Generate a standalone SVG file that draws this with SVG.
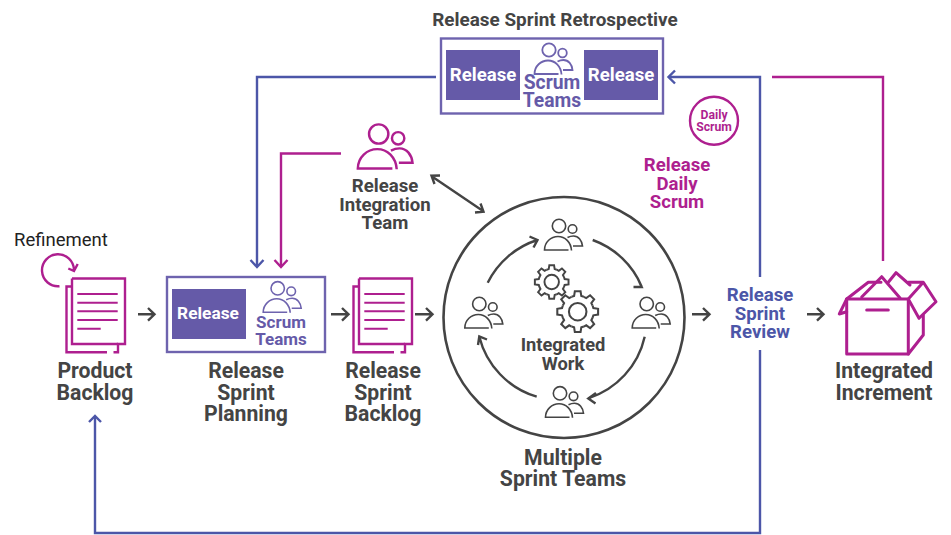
<svg xmlns="http://www.w3.org/2000/svg" xmlns:xlink="http://www.w3.org/1999/xlink" width="951" height="535" viewBox="0 0 951 535">
<style>
text{font-family:Roboto,"Liberation Sans",sans-serif;font-weight:700;text-anchor:middle;fill:#444}
.big{font-size:21.200px}
.mid{font-size:18.600px}
.blue{fill:#4c56a8}
.mag{fill:#ae1f8f}
.pur{fill:#655aa8}
.wht{fill:#fff}
.g{stroke:#444;stroke-width:2.400;fill:none}
.b{stroke:#4c56a8;stroke-width:2.400;fill:none}
.m{stroke:#ae1f8f;stroke-width:2.400;fill:none}
.box{fill:#fff;stroke:#6e63ae;stroke-width:2.400}
.rel{fill:#655aa8}
.doc{fill:none;stroke:#ae1f8f;stroke-width:2.400}
</style>
<defs>
<g id="person" fill="none">
<circle cx="0" cy="0" r="6.7"/>
<circle cx="13.5" cy="3" r="4.3"/>
<path d="M9.5 24H-14.5C-14.5 16-8 10.5-1 10.5C6 10.5 12 16 12.500 24.500"/>
<path d="M8.500 11.500C10.500 10.500 12.500 10 14.500 10C19.500 10 23 14.500 23.500 20H14"/>
</g>
<g id="gs"><path d="M14.42-5.98L15.2-3.500L19.800-2.780V2.780L15.2 3.500L14.42 5.980"/></g>
<g id="gear" fill="none">
<use xlink:href="#gs"/><use xlink:href="#gs" transform="rotate(45)"/><use xlink:href="#gs" transform="rotate(90)"/><use xlink:href="#gs" transform="rotate(135)"/><use xlink:href="#gs" transform="rotate(180)"/><use xlink:href="#gs" transform="rotate(225)"/><use xlink:href="#gs" transform="rotate(270)"/><use xlink:href="#gs" transform="rotate(315)"/>
<circle r="8.500"/>
</g>
<g id="docs" class="doc">
<path d="M72 278.500H125V344H118V352.300H113.500M107 352.300H66.500V286.500H71"/>
<path d="M72 278.500V344H118"/>
<path d="M77.300 294H117.700M77.300 302.700H117.700M77.300 311.300H117.700M77.300 320H117.700M77.300 328.700H100.700" stroke-width="2"/>
</g>
</defs>

<g id="connectors" stroke-linecap="butt">
<path class="b" d="M436 77H257V266"/>
<path class="b" d="M250.500 260L257 267L263.500 260"/>
<path class="m" d="M341 153.500H281V266"/>
<path class="m" d="M274.500 260L281 267L287.500 260"/>
<path class="b" d="M760 277V77H669"/>
<path class="b" d="M675 70.500L668.500 77L675 83.500"/>
<path class="b" d="M760 350V533H95V417"/>
<path class="b" d="M89 422L95 416L101 422"/>
<path class="m" d="M772 77H883V261"/>
<path class="g" d="M138 314.300H154M148 308L154.500 314.300L148 320.600"/>
<path class="g" d="M331 314.300H348M342 308L348.500 314.300L342 320.600"/>
<path class="g" d="M415 314.300H432M426 308L432.500 314.300L426 320.600"/>
<path class="g" d="M692 314.300H709M703 308L709.500 314.300L703 320.600"/>
<path class="g" d="M807 314.300H823M817 308L823.500 314.300L817 320.600"/>
<path class="g" d="M432 176.500L483 211M440 175.500L431.500 175.700L434.500 184M475 212.500L483.500 211.700L480.500 203.500"/>
<path class="g" d="M487.700 282.700A84 84 0 0 1 537.300 240M529.500 236.500L537.500 240L533.500 247.500"/>
<path class="g" d="M592.700 240A84 84 0 0 1 641.700 286.700M638 279L641.700 287L633.500 287"/>
<path class="g" d="M644.700 336.700A84 84 0 0 1 588.300 398.300M596 393L588.300 398.500L595.500 403.500"/>
<path class="g" d="M536.700 396.700A84 84 0 0 1 479.300 336.700M478 345L479.300 336.500L487 339.500"/>
<path class="m" d="M59.500 286.200A16 16 0 1 1 74 270M68.300 268.500L74 271L77.700 264"/>
</g>

<g id="retro">
<text x="555" y="26" style="font-size:18.900px">Release Sprint Retrospective</text>
<rect class="box" x="441" y="38.500" width="222" height="75"/>
<rect class="rel" x="446" y="50" width="74" height="50"/>
<rect class="rel" x="584" y="50" width="74" height="50"/>
<text class="wht" x="483" y="81" style="font-size:18.600px">Release</text>
<text class="wht" x="621" y="81" style="font-size:18.600px">Release</text>
<use xlink:href="#person" transform="translate(549 50)" stroke="#6e63ae" stroke-width="1.800"/>
<text class="pur" x="552" y="89" style="font-size:19.300px">Scrum</text>
<text class="pur" x="552" y="107" style="font-size:19.300px">Teams</text>
</g>

<g id="daily-scrum-badge">
<circle cx="714" cy="120.700" r="24" fill="#fff" stroke="#ae1f8f" stroke-width="2.400"/>
<text class="mag" x="714" y="119" style="font-size:12.200px">Daily</text>
<text class="mag" x="714" y="130.500" style="font-size:12.200px">Scrum</text>
</g>

<g id="release-daily-scrum">
<text class="mag mid" x="677" y="171">Release</text>
<text class="mag mid" x="677" y="190">Daily</text>
<text class="mag mid" x="677" y="208">Scrum</text>
</g>

<g id="integration-team">
<use xlink:href="#person" transform="translate(378.700 134) scale(1.440)" stroke="#ae1f8f" stroke-width="1.700"/>
<text class="mid" x="385" y="192">Release</text>
<text class="mid" x="385" y="211">Integration</text>
<text class="mid" x="385" y="229">Team</text>
</g>

<g id="refinement">
<text x="14" y="246" style="font-size:18.500px;font-weight:400;text-anchor:start;fill:#222">Refinement</text>
</g>

<g id="product-backlog">
<use xlink:href="#docs"/>
<text class="big" x="95" y="378">Product</text>
<text class="big" x="95" y="400">Backlog</text>
</g>

<g id="planning">
<rect class="box" x="167" y="277" width="158" height="75"/>
<rect class="rel" x="172" y="289" width="74" height="50"/>
<text class="wht" x="208" y="318.500" style="font-size:17.300px">Release</text>
<use xlink:href="#person" transform="translate(277.700 288.300)" stroke="#6e63ae" stroke-width="1.600"/>
<text class="pur" x="281" y="328" style="font-size:17px">Scrum</text>
<text class="pur" x="281" y="345" style="font-size:17px">Teams</text>
<text class="big" x="246" y="378">Release</text>
<text class="big" x="246" y="400">Sprint</text>
<text class="big" x="246" y="421">Planning</text>
</g>

<g id="sprint-backlog">
<use xlink:href="#docs" x="287"/>
<text class="big" x="383" y="378">Release</text>
<text class="big" x="383" y="400">Sprint</text>
<text class="big" x="383" y="421">Backlog</text>
</g>

<g id="sprint-teams">
<circle cx="564" cy="317.500" r="120.500" fill="none" stroke="#444" stroke-width="2.600"/>
<use xlink:href="#person" transform="translate(559 226)" stroke="#444" stroke-width="1.600"/>
<use xlink:href="#person" transform="translate(646.700 304)" stroke="#444" stroke-width="1.600"/>
<use xlink:href="#person" transform="translate(560 393.300)" stroke="#444" stroke-width="1.600"/>
<use xlink:href="#person" transform="translate(479.300 304)" stroke="#444" stroke-width="1.600"/>
<use xlink:href="#gear" transform="translate(551.700 282) scale(.85)" stroke="#444" stroke-width="2.300"/>
<use xlink:href="#gear" transform="translate(577.700 311.700) scale(1.030)" stroke="#444" stroke-width="2"/>
<text x="563" y="351" style="font-size:18.300px">Integrated</text>
<text x="563" y="370" style="font-size:18.300px">Work</text>
<text class="big" x="563" y="465">Multiple</text>
<text class="big" x="563" y="486">Sprint Teams</text>
</g>

<g id="review">
<text class="blue mid" x="760" y="301">Release</text>
<text class="blue mid" x="760" y="320">Sprint</text>
<text class="blue mid" x="760" y="338">Review</text>
</g>

<g id="increment">
<g fill="none" stroke="#ae1f8f" stroke-width="3" stroke-linejoin="round" stroke-linecap="round">
<rect x="846.700" y="299" width="61.600" height="55"/>
<path d="M908.300 354L923.300 335V315"/>
<path d="M846.700 299L839.300 314L846.700 311.700"/>
<path d="M846.700 299L868.300 282.300H881"/>
<path d="M861.700 297L881.700 276.700L900 298"/>
<path d="M888.300 282.300L896 272.700L910 285"/>
<path d="M908.300 282.300H923.300L936 301.700L919 318.300L908.300 299L923.300 282.300"/>
<path d="M866.700 310H888.300"/>
</g>
<text class="big" x="884" y="378">Integrated</text>
<text class="big" x="884" y="400">Increment</text>
</g>
</svg>
